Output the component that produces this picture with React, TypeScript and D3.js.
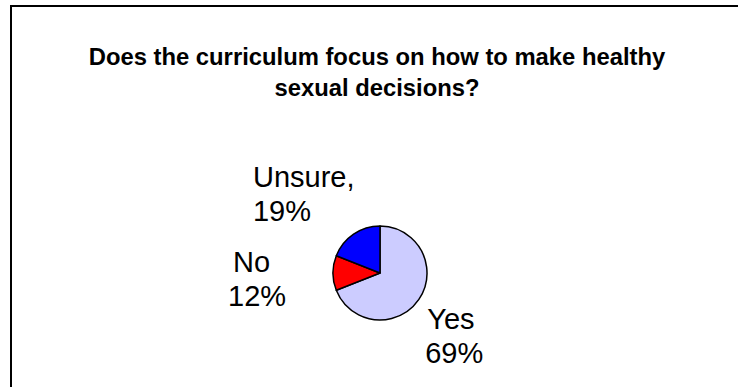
import * as d3 from "d3";

// slices clockwise from 12 o'clock
const categories = ["Yes", "No", "Unsure"];
const percents = [69, 12, 19];
const labelLines = [
  ["Yes", "69%"],
  ["No", "12%"],
  ["Unsure,", "19%"],
];
const sliceColors = ["#CCCCFF", "#FF0000", "#0000FF"];

const titleLines = [
  "Does the curriculum focus on how to make healthy",
  "sexual decisions?",
];

const W = 738;
const H = 387;
const cx = 380;
const cy = 273;
const radius = 47;
const labelRadius = 97;
const font = "Arial, 'Liberation Sans', Helvetica, sans-serif";

// per-line offsets (left edge, baseline) from each label's centroid on the label arc
const lineOffsets: [number, number][][] = [
  [
    [-33, 1.5],
    [-35, 35.5],
  ],
  [
    [-50, -1],
    [-55, 33],
  ],
  [
    [-72.5, -6],
    [-72.5, 28],
  ],
];

type Row = { name: string; value: number };

export default function App() {
  const rows: Row[] = categories.map((c, i) => ({ name: c, value: percents[i] }));
  const pie = d3
    .pie<Row>()
    .sort(null)
    .value((d) => d.value);
  const arcs = pie(rows);
  const arc = d3.arc<d3.PieArcDatum<Row>>().innerRadius(0).outerRadius(radius);
  const labelArc = d3
    .arc<d3.PieArcDatum<Row>>()
    .innerRadius(labelRadius)
    .outerRadius(labelRadius);

  return (
    <div style={{ position: "absolute", left: 0, top: 0 }}>
      <svg width={W} height={H} style={{ display: "block", background: "#fff" }}>
        {/* frame: only top and left edges show */}
        <path d={`M11,${H} L11,6 L${W},6`} fill="none" stroke="#000" strokeWidth={2} />

        {titleLines.map((t, i) => (
          <text
            key={i}
            x={377}
            y={65 + i * 31}
            textAnchor="middle"
            fontFamily={font}
            fontWeight="bold"
            fontSize={23.8}
            fill="#000"
          >
            {t}
          </text>
        ))}

        <g transform={`translate(${cx},${cy})`}>
          {arcs.map((a, i) => (
            <path
              key={a.data.name}
              d={arc(a) ?? ""}
              fill={sliceColors[i]}
              stroke="#000"
              strokeWidth={1.5}
              strokeLinejoin="round"
            />
          ))}

          {arcs.map((a, i) => {
            const [lx, ly] = labelArc.centroid(a);
            return (
              <g key={a.data.name}>
                {labelLines[i].map((line, j) => (
                  <text
                    key={j}
                    x={lx + lineOffsets[i][j][0]}
                    y={ly + lineOffsets[i][j][1]}
                    fontFamily={font}
                    fontSize={29}
                    fill="#000"
                  >
                    {line}
                  </text>
                ))}
              </g>
            );
          })}
        </g>
      </svg>
    </div>
  );
}
